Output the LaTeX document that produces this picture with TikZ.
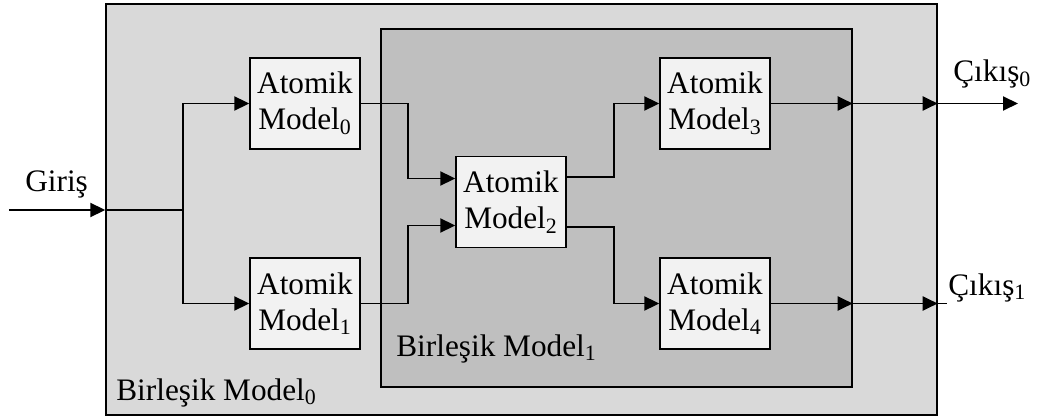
\documentclass[tikz,border=0pt]{standalone}
\usepackage{fontspec}
\setmainfont{Liberation Serif}
\usepackage{tikz}
\usetikzlibrary{arrows.meta, positioning, calc}
\colorlet{outergray}{black!15}
\colorlet{innergray}{black!25}
\colorlet{boxgray}{black!5}

\begin{document}
\begin{tikzpicture}[>={Triangle[length=0.3cm, width=0.28cm]},
    every node/.append style={font=\fontsize{17.8}{20.5}\selectfont},
    atomic/.style={draw=black, fill=boxgray, line width=0.8pt, minimum width=2.2cm, minimum height=1.82cm, align=center, inner sep=1pt},
    container/.style={draw=black, line width=0.8pt, inner sep=0pt},
    conn/.style={line width=1.1pt},
    lbl/.style={anchor=base west, inner sep=0pt}]
    \useasboundingbox (0,0) rectangle (20.82,8.34);

    % --- Containers: Birlesik Model 0 and 1 ---
    \node[container, fill=outergray, minimum width=16.62cm, minimum height=8.22cm] (bm0) at (10.43, 4.15) {};
    \node[container, fill=innergray, minimum width=9.42cm, minimum height=7.16cm] (bm1) at (12.33, 4.18) {};
    \node[lbl] (bm0label) at (2.32, 0.34) {Birleşik Model\textsubscript{0}};
    \node[lbl] (bm1label) at (7.92, 1.22) {Birleşik Model\textsubscript{1}};

    % --- Atomic models ---
    \node[atomic] (am0) at (6.10, 6.27) {Atomik\\Model\textsubscript{0}};
    \node[atomic] (am1) at (6.10, 2.27) {Atomik\\Model\textsubscript{1}};
    \node[atomic] (am2) at (10.22, 4.30) {Atomik\\Model\textsubscript{2}};
    \node[atomic] (am3) at (14.30, 6.27) {Atomik\\Model\textsubscript{3}};
    \node[atomic] (am4) at (14.30, 2.27) {Atomik\\Model\textsubscript{4}};

    % --- Input: Giris splits to Model 0 and 1 ---
    \coordinate (in) at (0.18, 4.14);
    \coordinate (split) at (3.66, 4.14);
    \node[lbl] (giris) at (0.50, 4.50) {Giriş};
    \draw[conn, ->] (in) -- (in -| bm0.west);
    \draw[conn] (in -| bm0.west) -- (split);
    \draw[conn, ->] (split) |- (am0.west);
    \draw[conn, ->] (split) |- (am1.west);

    % --- Inner connections ---
    \draw[conn, ->] (am0.east) -- ++(0.94,0) |- ([yshift=0.47cm]am2.west);
    \draw[conn, ->] (am1.east) -- ++(0.94,0) |- ([yshift=-0.47cm]am2.west);
    \draw[conn, ->] ([yshift=0.5cm]am2.east) -- ++(0.94,0) |- (am3.west);
    \draw[conn, ->] ([yshift=-0.5cm]am2.east) -- ++(0.94,0) |- (am4.west);

    % --- Outputs: Cikis 0 and 1 ---
    \coordinate (out0) at (20.36, 6.27);
    \coordinate (out1) at (18.94, 2.27);
    \draw[conn, ->] (am3.east) -- (am3.east -| bm1.east);
    \draw[conn, ->] (am3.east -| bm1.east) -- (am3.east -| bm0.east);
    \draw[conn, ->] (am3.east -| bm0.east) -- (out0);
    \draw[conn, ->] (am4.east) -- (am4.east -| bm1.east);
    \draw[conn, ->] (am4.east -| bm1.east) -- (am4.east -| bm0.east);
    \draw[conn] (am4.east -| bm0.east) -- (out1);
    \node[lbl] (cikis0) at (19.06, 6.70) {Çıkış\textsubscript{0}};
    \node[lbl] (cikis1) at (18.96, 2.44) {Çıkış\textsubscript{1}};
\end{tikzpicture}
\end{document}
